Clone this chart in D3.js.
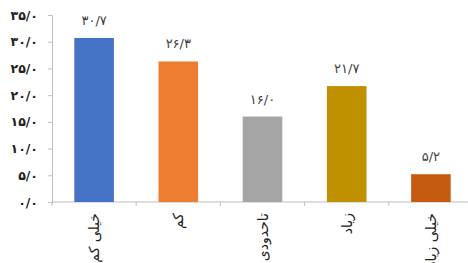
<!DOCTYPE html>
<html><head><meta charset="utf-8">
<script src="https://cdn.jsdelivr.net/npm/d3@7"></script>
<style>body{margin:0;background:#fff}svg{display:block}</style>
</head><body>
<script>
const categories = ["خیلی کم", "کم", "تاحدودی", "زیاد", "خیلی زیاد"];
const values = [30.7, 26.3, 16.0, 21.7, 5.2];
const valueLabels = ["۳۰/۷", "۲۶/۳", "۱۶/۰", "۲۱/۷", "۵/۲"];
const colors = ["#4472C4", "#ED7D31", "#A5A5A5", "#BF9000", "#C55A11"];
const yTicks = [0, 5, 10, 15, 20, 25, 30, 35];
const yTickLabels = ["۰/۰", "۵/۰", "۱۰/۰", "۱۵/۰", "۲۰/۰", "۲۵/۰", "۳۰/۰", "۳۵/۰"];

const W = 468, H = 263;
const svg = d3.select("body").append("svg").attr("width", W).attr("height", H);
const x = d3.scaleBand().domain(categories).range([52, 473]).paddingInner(0.53).paddingOuter(0.265);
const y = d3.scaleLinear().domain([0, 35]).range([202, 15]);
const font = "'DejaVu Sans', sans-serif";

// y axis
const ya = svg.append("g").attr("transform", "translate(52,0)")
  .call(d3.axisLeft(y).tickValues(yTicks).tickSize(4).tickFormat((d, i) => yTickLabels[i]));
ya.select(".domain").attr("stroke", "#bfbfbf");
ya.selectAll(".tick line").attr("stroke", "#bfbfbf");
ya.selectAll(".tick text").attr("x", -14).attr("fill", "#222")
  .style("font-family", font).style("font-size", "12.5px").style("font-weight", "bold");

// x axis line and boundary ticks
const xa = svg.append("g");
xa.append("line").attr("x1", 52).attr("x2", 473).attr("y1", y(0)).attr("y2", y(0)).attr("stroke", "#bfbfbf");
const step = x.step();
d3.range(categories.length + 1).forEach(i => {
  const bx = 52 + i * step;
  xa.append("line").attr("x1", bx).attr("x2", bx).attr("y1", y(0)).attr("y2", y(0) + 4).attr("stroke", "#bfbfbf");
});

// bars
svg.selectAll("rect.bar").data(values).join("rect").attr("class", "bar")
  .attr("x", (d, i) => x(categories[i])).attr("width", x.bandwidth())
  .attr("y", d => y(d)).attr("height", d => y(0) - y(d))
  .attr("fill", (d, i) => colors[i]);

// value labels
svg.selectAll("text.val").data(values).join("text").attr("class", "val")
  .attr("x", (d, i) => x(categories[i]) + x.bandwidth() / 2)
  .attr("y", d => y(d) - 13)
  .attr("text-anchor", "middle").attr("fill", "#404040")
  .style("font-family", font).style("font-size", "13px")
  .text((d, i) => valueLabels[i]);

// category labels rotated
svg.selectAll("text.cat").data(categories).join("text").attr("class", "cat")
  .attr("transform", d => `translate(${x(d) + x.bandwidth() / 2 + 5},${y(0) + 11}) rotate(-90)`)
  .attr("text-anchor", "end").attr("fill", "#222")
  .style("font-family", font).style("font-size", "14px")
  .text(d => d);
</script>
</body></html>
